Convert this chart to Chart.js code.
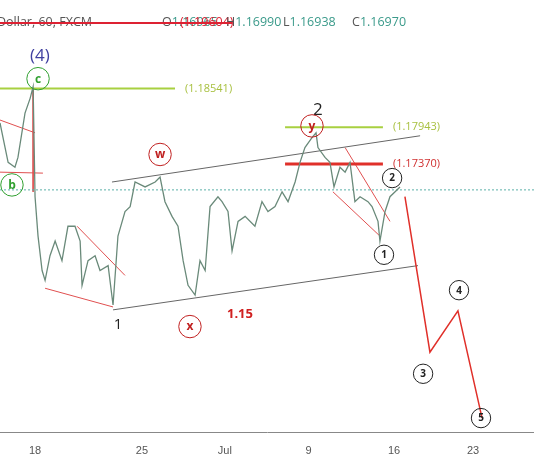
<!DOCTYPE html><html><head><script src="https://cdn.jsdelivr.net/npm/chart.js@4"></script>
<style>body{margin:0;background:#fff;font-family:"Open Sans",sans-serif}#w{position:relative;width:534px;height:462px}
#hdr{position:absolute;left:0;top:13px;width:534px;height:20px;font-size:12.5px;color:#555;white-space:nowrap}#hdr span{position:absolute;top:0}#hdr .o{color:#3a9a8a}#hdr .s{position:absolute;left:0;top:9px;width:232px;height:1.5px;background:#d23}
#hdr .r{color:#d23}</style></head><body><div id="w"><canvas id="c" width="534" height="462"></canvas>
<div id="hdr"><span style="left:-3px">Dollar, 60, FXCM</span><span style="left:162px">O<span class="o" style="position:static">1.16965</span></span><span class="r" style="left:180px">(1.19604)</span><span style="left:226px">H<span class="o" style="position:static">1.16990</span></span><span style="left:283px">L<span class="o" style="position:static">1.16938</span></span><span style="left:352px">C<span class="o" style="position:static">1.16970</span></span><span class="s"></span></div></div>
<script>
const days=[-1.64,-1.26,-0.94,-0.8,-0.47,-0.23,-0.09,0,0.14,0.33,0.47,0.7,0.94,1.26,1.54,1.87,2.11,2.2,2.48,2.81,3.04,3.42,3.65,3.88,4.21,4.45,4.68,5.15,5.62,5.85,6.08,6.41,6.69,6.93,7.16,7.49,7.72,7.96,8.19,8.56,8.75,9.03,9.22,9.5,9.83,10.29,10.62,10.9,11.23,11.56,11.84,12.17,12.4,12.63,12.96,13.15,13.24,13.57,13.8,13.99,14.27,14.51,14.74,14.97,15.21,15.58,15.77,16.05,16.14,16.38,16.61,16.85,17.08];
const prices=[1.18007,1.17397,1.17321,1.17474,1.1816,1.18389,1.18572,1.16864,1.16254,1.1572,1.15567,1.15949,1.16177,1.15872,1.16406,1.16406,1.16177,1.15491,1.15872,1.15949,1.15720,1.15796,1.15186,1.16254,1.16635,1.16711,1.17092,1.17016,1.17092,1.17169,1.16787,1.16559,1.16406,1.15872,1.15491,1.15339,1.15872,1.1572,1.16711,1.16864,1.16787,1.16635,1.16025,1.16482,1.16559,1.16406,1.16787,1.16635,1.16711,1.16940,1.16787,1.17092,1.17397,1.17626,1.17779,1.17855,1.17626,1.17474,1.17397,1.17016,1.17321,1.17245,1.17397,1.16787,1.16864,1.16787,1.16711,1.16482,1.16177,1.16635,1.16864,1.16940,1.17016];
const tickDays=[0,5,8.88,12.8,16.8,20.5];
const tickLabels=['18','25','Jul','9','16','23'];
const levels=[[-1.64,6.55,1.18541,'#a8d040','(1.18541)'],[11.7,16.28,1.17943,'#a8d040','(1.17943)'],[11.7,16.28,1.1737,'#e0302a','(1.17370)']];
const forecastDays=[17.31,18.48,19.79,20.92];
const forecastPrices=[1.16864,1.14454,1.15094,1.13432];
const segs=[[[3.6,1.17092],[18.02,1.17809],'#666'],[[3.65,1.1511],[17.92,1.15796],'#666'],[[-1.64,1.18053],[0,1.17855],'#e05050'],[[-1.64,1.17245],[0.37,1.1723],'#e05050'],[[-0.09,1.18541],[-0.09,1.1694],'#e05050'],[[0.47,1.15445],[3.65,1.15155],'#e05050'],[[1.97,1.16406],[4.21,1.15644],'#e05050'],[[13.94,1.1694],[16.14,1.16254],'#e05050'],[[14.51,1.17626],[16.61,1.16482],'#e05050']];
const labels=[['(4)',0.23,1.19044,'#4040a0','t',17],['c',0.14,1.18694,'#30a030','c',12],['b',-1.08,1.17047,'#30a030','c',12],['w',5.85,1.17519,'#c02020','c',12],['2',13.24,1.18206,'#222','t',17],['y',12.96,1.17962,'#c02020','c',12],['2',16.71,1.17153,'#222','c',10],['1',16.33,1.15964,'#222','c',10],['1',3.88,1.14881,'#222','t',15],['x',7.25,1.14851,'#c02020','c',12],['1.15',9.59,1.15034,'#d02020','b',13],['3',18.16,1.14119,'#222','c',10],['4',19.84,1.15415,'#222','c',10],['5',20.87,1.13432,'#222','c',10]];
const ds=[{data:days.map((d,i)=>({x:d,y:prices[i]})),borderColor:'#6a8a7a',borderWidth:1.3,pointRadius:0,tension:0}];
ds.push({data:[{x:-1.64,y:1.1697},{x:23.35,y:1.1697}],borderColor:'#5ab0a8',borderWidth:1,borderDash:[2,2],pointRadius:0});
levels.forEach(l=>ds.push({data:[{x:l[0],y:l[2]},{x:l[1],y:l[2]}],borderColor:l[3],borderWidth:l[3]=='#e0302a'?3:2,pointRadius:0}));
ds.push({data:forecastDays.map((d,i)=>({x:d,y:forecastPrices[i]})),borderColor:'#e0302a',borderWidth:1.5,pointRadius:0});
segs.forEach(s=>ds.push({data:[{x:s[0][0],y:s[0][1]},{x:s[1][0],y:s[1][1]}],borderColor:s[2],borderWidth:1,pointRadius:0}));
const txt={id:'txt',afterDatasetsDraw(c){const g=c.ctx,X=c.scales.x,Y=c.scales.y;g.save();g.textAlign='center';g.textBaseline='middle';
levels.forEach(l=>{g.font='11px "Open Sans"';g.fillStyle=l[3]=='#e0302a'?'#d03030':'#a8c040';g.textAlign='left';g.fillText(l[4],X.getPixelForValue(l[1])+10,Y.getPixelForValue(l[2]));});
g.textAlign='center';
labels.forEach(t=>{const x=X.getPixelForValue(t[1]),y=Y.getPixelForValue(t[2]);g.fillStyle=t[3];
if(t[4]=='c'){g.strokeStyle=t[3];g.lineWidth=1;g.beginPath();g.arc(x,y,t[5]/1.3+2,0,7);g.stroke();g.font='bold '+t[5]+'px "Open Sans"';g.fillText(t[0],x,y+0.5);}
else{g.font=(t[4]=='b'?'bold ':'')+t[5]+'px "Open Sans"';g.fillText(t[0],x,y);}});g.restore();}};
new Chart(document.getElementById('c'),{type:'line',data:{datasets:ds},plugins:[txt],options:{animation:false,responsive:false,plugins:{legend:{display:false},tooltip:{enabled:false}},layout:{padding:0},
scales:{x:{type:'linear',min:-1.64,max:23.35,afterBuildTicks:a=>{a.ticks=tickDays.map(v=>({value:v}))},ticks:{callback:(v)=>tickLabels[tickDays.indexOf(v)],color:'#555',font:{size:11},maxRotation:0,padding:4},grid:{display:false},border:{color:'#888'}},
y:{display:false,min:1.13204,max:1.19914}}}});
</script></body></html>
